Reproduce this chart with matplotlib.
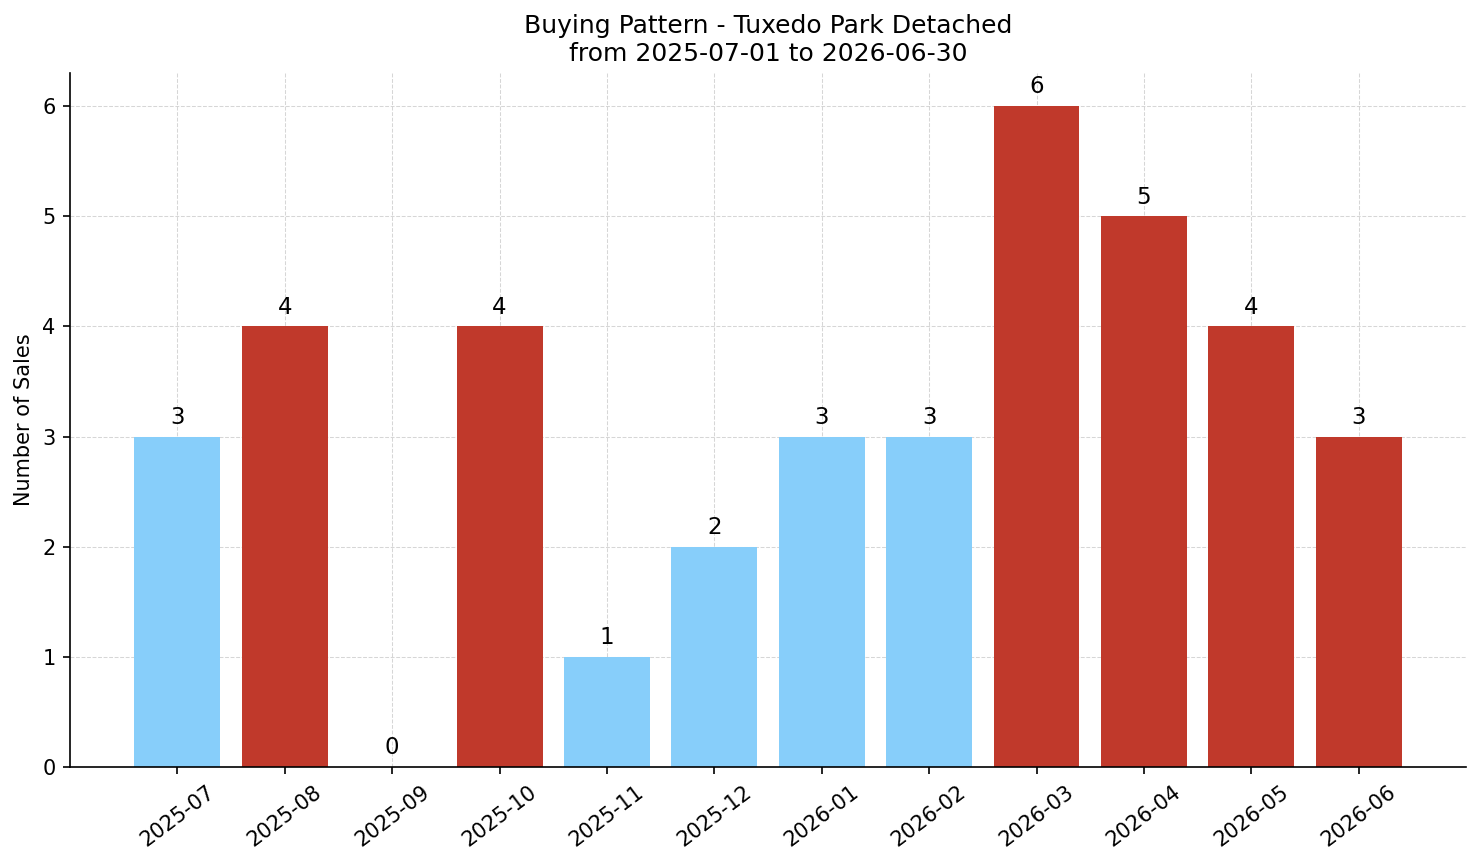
import matplotlib
matplotlib.use("Agg")
import matplotlib.pyplot as plt

months = ["2025-07", "2025-08", "2025-09", "2025-10", "2025-11", "2025-12",
          "2026-01", "2026-02", "2026-03", "2026-04", "2026-05", "2026-06"]
sales = [3, 4, 0, 4, 1, 2, 3, 3, 6, 5, 4, 3]
bar_colors = ["#87CEFA", "#C0392B", "#87CEFA", "#C0392B", "#87CEFA", "#87CEFA",
              "#87CEFA", "#87CEFA", "#C0392B", "#C0392B", "#C0392B", "#C0392B"]

DPI = 150
fig, ax = plt.subplots(figsize=(1481 / DPI, 863 / DPI), dpi=DPI)
fig.subplots_adjust(left=0.0473, right=0.9899, top=0.9154, bottom=0.1112)

x = list(range(len(months)))
ax.bar(x, sales, width=0.8, color=bar_colors, zorder=2)
for xi, v in zip(x, sales):
    ax.text(xi, v + 0.07, str(v), ha="center", va="bottom", fontsize=11)

ax.set_xticks(x)
ax.set_xticklabels(months, rotation=37, ha="center", fontsize=10)
ax.tick_params(axis="y", labelsize=10)
ax.set_xlim(-1, 12)
ax.set_ylim(0, 6.3)
ax.set_ylabel("Number of Sales", fontsize=10)
ax.set_title("Buying Pattern - Tuxedo Park Detached\nfrom 2025-07-01 to 2026-06-30", fontsize=12)
ax.grid(True, linestyle="--", color="#cccccc", linewidth=0.5, alpha=0.8, zorder=0)
for s in ["top", "right"]:
    ax.spines[s].set_visible(False)

fig.savefig("out.png", dpi=DPI)
